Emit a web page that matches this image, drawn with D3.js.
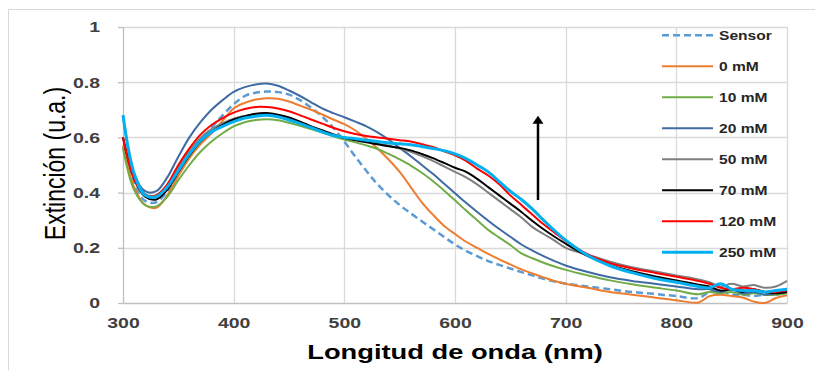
<!DOCTYPE html>
<html><head><meta charset="utf-8">
<script src="https://cdn.jsdelivr.net/npm/d3@7"></script>
<style>
body{margin:0;background:#fff;}
svg{display:block;font-family:"Liberation Sans",Arial,sans-serif;}
</style>
</head><body>
<svg id="c" width="815" height="370"></svg>
<script>
// ---------- data ----------
const wavelengths = [300,310,320,330,340,350,360,370,380,390,400,410,420,430,440,450,460,470,480,490,500,510,520,530,540,550,560,570,580,590,600,610,620,630,640,650,660,670,680,690,700,720,740,760,780,800,820,830,840,850,860,870,880,890,900];

const sensor = [0.57,0.43,0.37,0.365,0.405,0.47,0.535,0.585,0.635,0.68,0.72,0.75,0.762,0.766,0.764,0.755,0.735,0.708,0.675,0.635,0.585,0.53,0.478,0.43,0.39,0.355,0.325,0.296,0.268,0.24,0.212,0.189,0.17,0.152,0.138,0.125,0.112,0.1,0.088,0.078,0.07,0.06,0.05,0.04,0.033,0.025,0.018,0.04,0.045,0.03,0.03,0.025,0.03,0.03,0.04];
const mM0 = [0.57,0.42,0.355,0.345,0.39,0.46,0.525,0.575,0.615,0.66,0.705,0.725,0.737,0.742,0.74,0.73,0.715,0.7,0.683,0.665,0.648,0.625,0.595,0.56,0.52,0.475,0.42,0.365,0.32,0.28,0.25,0.222,0.2,0.178,0.158,0.14,0.122,0.107,0.093,0.08,0.07,0.055,0.04,0.03,0.02,0.01,0.002,0.025,0.03,0.025,0.02,0.005,0.0,0.018,0.028];
const mM10 = [0.56,0.41,0.355,0.35,0.385,0.445,0.5,0.548,0.585,0.615,0.64,0.655,0.663,0.666,0.662,0.653,0.642,0.63,0.618,0.604,0.592,0.582,0.571,0.558,0.54,0.52,0.498,0.472,0.442,0.408,0.372,0.335,0.3,0.265,0.237,0.21,0.18,0.162,0.146,0.132,0.12,0.1,0.082,0.068,0.056,0.045,0.032,0.04,0.035,0.04,0.03,0.035,0.03,0.03,0.035];
const mM20 = [0.68,0.47,0.405,0.405,0.455,0.53,0.6,0.655,0.7,0.735,0.765,0.782,0.792,0.795,0.787,0.77,0.75,0.727,0.705,0.688,0.673,0.657,0.64,0.618,0.592,0.562,0.532,0.5,0.468,0.433,0.398,0.363,0.33,0.298,0.268,0.24,0.212,0.19,0.17,0.152,0.136,0.112,0.093,0.08,0.07,0.06,0.05,0.05,0.04,0.05,0.035,0.04,0.03,0.035,0.04];
const mM50 = [0.6,0.46,0.395,0.39,0.425,0.49,0.55,0.598,0.63,0.652,0.668,0.678,0.684,0.685,0.68,0.67,0.655,0.64,0.626,0.612,0.6,0.592,0.585,0.578,0.57,0.56,0.548,0.532,0.515,0.495,0.475,0.455,0.43,0.4,0.37,0.34,0.31,0.275,0.25,0.226,0.2,0.175,0.15,0.13,0.115,0.1,0.085,0.075,0.06,0.07,0.06,0.065,0.055,0.06,0.08];
const mM70 = [0.6,0.45,0.385,0.375,0.41,0.475,0.535,0.585,0.62,0.645,0.665,0.677,0.686,0.688,0.682,0.672,0.657,0.64,0.625,0.61,0.598,0.59,0.582,0.575,0.568,0.562,0.553,0.54,0.525,0.508,0.49,0.475,0.45,0.42,0.39,0.36,0.33,0.297,0.267,0.24,0.215,0.17,0.138,0.115,0.097,0.082,0.066,0.06,0.045,0.05,0.04,0.05,0.04,0.035,0.04];
const mM120 = [0.6,0.45,0.39,0.39,0.43,0.5,0.56,0.61,0.645,0.67,0.69,0.703,0.71,0.71,0.705,0.695,0.68,0.665,0.65,0.635,0.622,0.612,0.605,0.6,0.595,0.59,0.585,0.575,0.565,0.55,0.535,0.515,0.487,0.462,0.43,0.39,0.355,0.32,0.285,0.255,0.225,0.176,0.145,0.125,0.11,0.095,0.08,0.07,0.055,0.05,0.055,0.05,0.04,0.04,0.045];
const mM250 = [0.68,0.47,0.39,0.385,0.42,0.48,0.54,0.588,0.62,0.64,0.657,0.67,0.677,0.68,0.675,0.663,0.65,0.635,0.62,0.607,0.6,0.595,0.59,0.585,0.58,0.577,0.573,0.567,0.56,0.552,0.54,0.523,0.5,0.475,0.44,0.405,0.375,0.34,0.3,0.262,0.228,0.172,0.135,0.11,0.09,0.075,0.06,0.055,0.07,0.05,0.045,0.045,0.04,0.045,0.05];

const seriesNames = ["Sensor","0 mM","10 mM","20 mM","50 mM","70 mM","120 mM","250 mM"];
const seriesValues = [sensor,mM0,mM10,mM20,mM50,mM70,mM120,mM250];

const xTickValues = [300,400,500,600,700,800,900];
const xTickLabels = ["300","400","500","600","700","800","900"];
const yTickValues = [0,0.2,0.4,0.6,0.8,1];
const yTickLabels = ["0","0.2","0.4","0.6","0.8","1"];

const xTitle = "Longitud de onda (nm)";
const yTitle = "Extinción (u.a.)";

// arrow annotation (data coordinates)
const arrowX = 675, arrowFrom = 0.373, arrowTo = 0.678;

// ---------- style ----------
const seriesColors = ["#5B9BD5","#ED7D31","#70AD47","#3F6BA3","#7F7F7F","#000000","#FF0000","#00B0F0"];
const seriesWidths = [2.5,2,2,2,2,2,2,3];
const SX = 1.3; // horizontal text stretch of the original picture

const svg = d3.select("#c");
const L = 123, R = 787, T = 27, B = 303;
const x = d3.scaleLinear().domain([300,900]).range([L,R]);
const y = d3.scaleLinear().domain([0,1]).range([B,T]);

// outer chart border (only left/top visible)
svg.append("rect").attr("x",8.5).attr("y",9.5).attr("width",900).attr("height",500)
  .attr("fill","none").attr("stroke","#d9d9d9").attr("stroke-width",1);

// gridlines
svg.append("g").selectAll("line").data(yTickValues.slice(1)).join("line")
  .attr("x1",L).attr("x2",R).attr("y1",d=>Math.round(y(d))+0.5).attr("y2",d=>Math.round(y(d))+0.5)
  .attr("stroke","#d9d9d9").attr("stroke-width",1.3);
svg.append("g").selectAll("line").data(xTickValues.slice(1)).join("line")
  .attr("x1",d=>Math.round(x(d))+0.5).attr("x2",d=>Math.round(x(d))+0.5).attr("y1",T).attr("y2",B)
  .attr("stroke","#d9d9d9").attr("stroke-width",1.3);

// axes
const yAxis = d3.axisLeft(y).tickValues(yTickValues).tickSize(5).tickSizeOuter(0).tickPadding(18)
  .tickFormat((d,i)=>yTickLabels[i]);
const gy = svg.append("g").attr("transform",`translate(${L},0)`).call(yAxis);
gy.select(".domain").attr("stroke","#bfbfbf").attr("stroke-width",1.3);
gy.selectAll(".tick line").attr("stroke","#bfbfbf").attr("stroke-width",1.3);
gy.selectAll(".tick text").each(function(){
  const t = d3.select(this); const xx = +t.attr("x");
  t.attr("x",0).attr("transform",`translate(${xx},0) scale(${SX},1)`);
}).attr("font-size",15).attr("font-weight","bold").attr("fill","#404040").attr("font-family",null);

const xAxis = d3.axisBottom(x).tickValues(xTickValues).tickSize(0).tickSizeOuter(0).tickPadding(14)
  .tickFormat((d,i)=>xTickLabels[i]);
const gx = svg.append("g").attr("transform",`translate(0,${B})`).call(xAxis);
gx.select(".domain").attr("stroke","#bfbfbf").attr("stroke-width",1.3);
gx.selectAll(".tick text").attr("transform",`scale(${SX},1)`)
  .attr("font-size",15).attr("font-weight","bold").attr("fill","#404040").attr("font-family",null);

// series lines
const line = d3.line().x((d,i)=>x(wavelengths[i])).y(d=>y(d)).curve(d3.curveCatmullRom.alpha(0.5));
const gl = svg.append("g");
seriesValues.forEach((vals,k)=>{
  gl.append("path").datum(vals).attr("d",line).attr("fill","none")
    .attr("stroke",seriesColors[k]).attr("stroke-width",seriesWidths[k])
    .attr("stroke-linejoin","round")
    .attr("stroke-dasharray",k===0?"7,4":null);
});

// arrow
const ax = x(arrowX), ay0 = y(arrowFrom), ay1 = y(arrowTo);
svg.append("line").attr("x1",ax).attr("x2",ax).attr("y1",ay0).attr("y2",ay1+6)
  .attr("stroke","#000").attr("stroke-width",2.5);
svg.append("path").attr("d",`M${ax},${ay1} L${ax-5.5},${ay1+8} L${ax+5.5},${ay1+8} Z`).attr("fill","#000");

// legend
const lg = svg.append("g");
seriesNames.forEach((name,k)=>{
  const yy = 35.3 + 31*k;
  lg.append("line").attr("x1",662).attr("x2",713).attr("y1",yy).attr("y2",yy)
    .attr("stroke",seriesColors[k]).attr("stroke-width",seriesWidths[k])
    .attr("stroke-dasharray",k===0?"7,4":null);
  lg.append("text").attr("transform",`translate(719,${yy+4.4}) scale(${SX},1)`)
    .attr("font-size",12).attr("font-weight","bold").attr("fill","#262626").text(name);
});

// titles
svg.append("text").attr("transform",`translate(455,359) scale(${SX},1)`)
  .attr("text-anchor","middle").attr("font-size",21).attr("font-weight","bold").attr("fill","#000")
  .text(xTitle);
svg.append("text").attr("transform",`translate(65,163.5) scale(${SX},1) rotate(-90)`)
  .attr("text-anchor","middle").attr("font-size",23).attr("fill","#000")
  .text(yTitle);
</script>
</body></html>
